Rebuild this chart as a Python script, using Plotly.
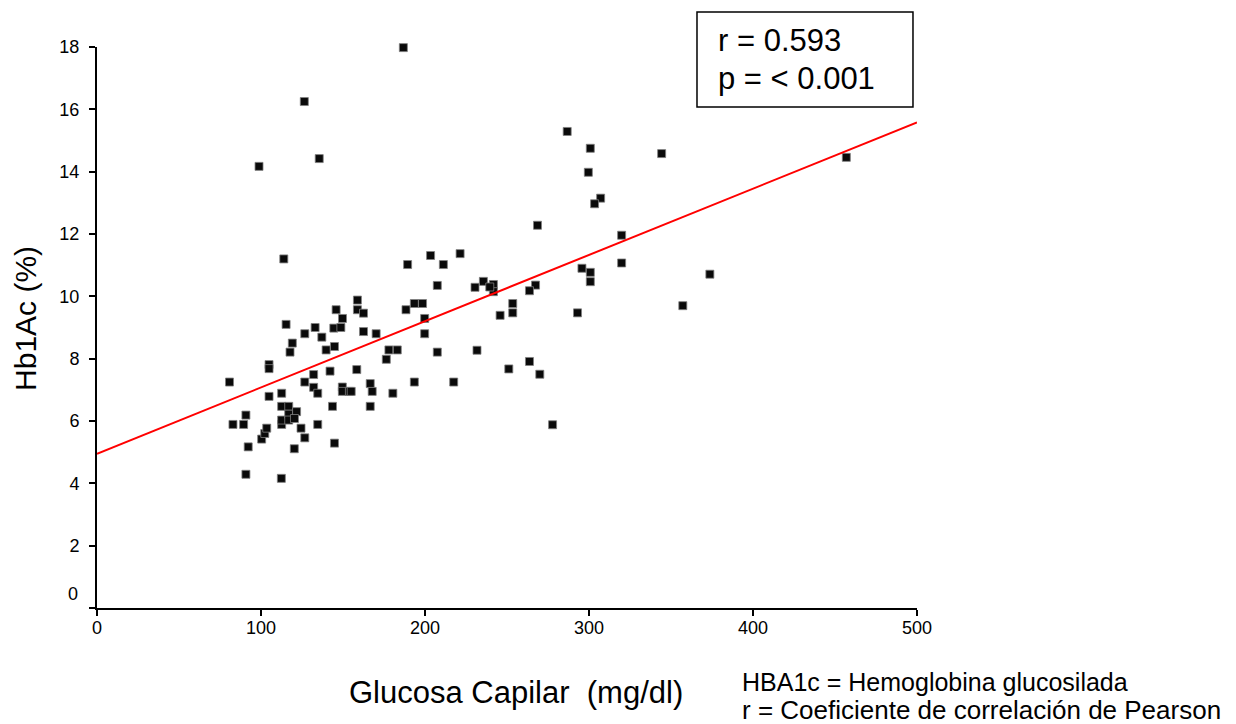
import plotly.graph_objects as go

# Glucosa capilar (mg/dl) vs Hb1Ac (%)
glucosa = [80.8, 82.9, 89.4, 90.8, 92.2, 90.8, 100.4, 102.3, 103.5, 104.9,
           104.9, 104.9, 112.6, 115.3, 119.1, 117.7, 126.7, 112.6, 116.9, 112.6,
           112.6, 116.9, 116.9, 121.7, 120.4, 124.4, 120.3, 126.7, 112.4, 126.7,
           113.9, 133.0, 137.1, 139.7, 144.8, 144.4, 148.7, 145.8, 149.7, 158.8,
           158.8, 162.5, 162.5, 170.2, 178.0, 183.1, 176.4, 188.4, 193.5, 198.5,
           199.8, 199.8, 189.4, 203.4, 211.2, 207.5, 207.5, 193.5, 158.4, 142.1,
           132.1, 132.1, 134.6, 149.6, 149.6, 153.9, 155.0, 166.6, 167.8, 180.4,
           143.6, 166.6, 134.6, 144.8, 286.7, 300.8, 299.6, 307.1, 303.4, 344.3,
           268.6, 319.9, 319.9, 357.2, 295.7, 300.8, 300.8, 293.0, 267.4, 263.7,
           253.5, 253.5, 245.8, 235.6, 230.5, 241.7, 241.7, 239.5, 221.4, 231.7,
           217.5, 251.1, 263.7, 270.0, 277.8, 186.8, 126.4, 98.8, 135.5, 456.9,
           373.7]
hb1ac = [7.25, 5.89, 5.89, 6.19, 5.17, 4.29, 5.42, 5.60, 5.77, 7.81,
         7.68, 6.79, 6.89, 9.10, 8.50, 8.21, 8.80, 6.47, 6.47, 5.89,
         6.03, 6.22, 6.03, 6.30, 6.08, 5.77, 5.11, 5.46, 4.16, 7.25,
         11.20, 9.00, 8.69, 8.28, 8.39, 8.98, 9.00, 9.57, 9.29, 9.88,
         9.57, 9.46, 8.87, 8.80, 8.28, 8.28, 7.98, 9.57, 9.77, 9.77,
         9.29, 8.80, 11.02, 11.31, 11.02, 10.35, 8.21, 7.25, 7.65, 7.60,
         7.49, 7.08, 6.89, 7.09, 6.95, 6.95, 6.95, 7.20, 6.95, 6.89,
         6.47, 6.47, 5.89, 5.29, 15.29, 14.75, 13.98, 13.15, 12.97, 14.58,
         12.28, 11.96, 11.07, 9.70, 10.90, 10.77, 10.47, 9.47, 10.36, 10.18,
         9.77, 9.47, 9.39, 10.48, 10.29, 10.38, 10.15, 10.30, 11.37, 8.27,
         7.25, 7.67, 7.91, 7.50, 5.88, 17.98, 16.25, 14.17, 14.42, 14.46,
         10.71]

fit_x = [0, 500]
fit_y = [4.95, 15.58]

x_ticks = [0, 100, 200, 300, 400, 500]
y_ticks = [0, 2, 4, 6, 8, 10, 12, 14, 16, 18]
# the "0" label of the y axis sits a little above its tick in the reference
y_ticktext = ["" if v == 0 else str(v) for v in y_ticks]

FONT = "Liberation Sans, Arial, Helvetica, sans-serif"

fig = go.Figure()
fig.add_trace(go.Scatter(
    x=glucosa, y=hb1ac, mode="markers", cliponaxis=False,
    marker=dict(symbol="square", size=8, color="#0a0a0a",
                line=dict(color="#808080", width=0.8)),
    showlegend=False, hoverinfo="x+y"))
fig.add_trace(go.Scatter(
    x=fit_x, y=fit_y, mode="lines",
    line=dict(color="#ff0000", width=2), showlegend=False, hoverinfo="skip"))

# the page body adds an 8 px margin, so the figure is 8 px smaller and margins shifted
fig.update_layout(
    width=1228, height=716,
    margin=dict(l=89, r=319, t=39, b=116, autoexpand=False),
    paper_bgcolor="white", plot_bgcolor="white",
    font=dict(family=FONT, color="black", size=18),
    xaxis=dict(range=[0, 500], tickvals=x_ticks, ticktext=[str(v) for v in x_ticks],
               showgrid=False, zeroline=False, showline=True, linecolor="black",
               linewidth=2, ticks="outside", ticklen=6, tickwidth=2, tickcolor="black",
               tickfont=dict(size=18, family=FONT), ticklabelstandoff=-4),
    yaxis=dict(range=[0, 18], tickvals=y_ticks, ticktext=y_ticktext,
               showgrid=False, zeroline=False, showline=True, linecolor="black",
               linewidth=2, ticks="outside", ticklen=6, tickwidth=2, tickcolor="black",
               tickfont=dict(size=18, family=FONT), ticklabelstandoff=6),
)

fig.add_annotation(text=str(y_ticks[0]), xref="paper", yref="paper",
                   x=-0.0207, y=0.0258, xanchor="right", yanchor="middle",
                   showarrow=False, font=dict(size=18, family=FONT, color="black"))

# stats box
fig.add_shape(type="rect", xref="paper", yref="paper",
              x0=0.7317, x1=0.9951, y0=0.893, y1=1.0624,
              line=dict(color="black", width=1.5), fillcolor="white")
fig.add_annotation(text="r = 0.593", xref="paper", yref="paper", x=0.7549, y=1.0107,
                   xanchor="left", yanchor="middle", showarrow=False,
                   font=dict(size=31, family=FONT, color="black"))
fig.add_annotation(text="p = < 0.001", xref="paper", yref="paper", x=0.7549, y=0.9447,
                   xanchor="left", yanchor="middle", showarrow=False,
                   font=dict(size=31, family=FONT, color="black"))

# axis titles
fig.add_annotation(text="Glucosa Capilar  (mg/dl)", xref="paper", yref="paper",
                   x=0.5104, y=-0.1515, xanchor="center", yanchor="middle",
                   showarrow=False, font=dict(size=31, family=FONT, color="black"))
fig.add_annotation(text="Hb1Ac (%)", xref="paper", yref="paper",
                   x=-0.0866, y=0.517, xanchor="center", yanchor="middle", textangle=-90,
                   showarrow=False, font=dict(size=30, family=FONT, color="black"))

# notes
fig.add_annotation(text="HBA1c = Hemoglobina glucosilada", xref="paper", yref="paper",
                   x=0.7841, y=-0.1320, xanchor="left", yanchor="middle",
                   showarrow=False, font=dict(size=25, family=FONT, color="black"))
fig.add_annotation(text="r = Coeficiente de correlación de Pearson", xref="paper", yref="paper",
                   x=0.7841, y=-0.181, xanchor="left", yanchor="middle",
                   showarrow=False, font=dict(size=26, family=FONT, color="black"))

fig.write_html("out.html")
